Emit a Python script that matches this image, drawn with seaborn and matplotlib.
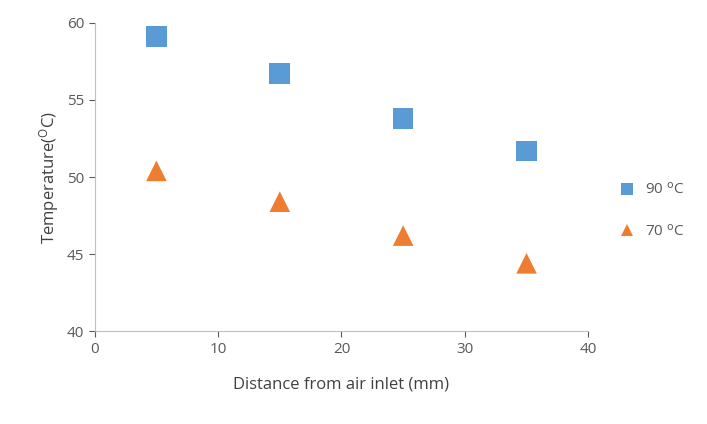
import matplotlib
matplotlib.use("Agg")
import matplotlib.pyplot as plt
import seaborn as sns
import pandas as pd

# data
distance = [5, 15, 25, 35]
temp_90 = [59.1, 56.7, 53.8, 51.7]
temp_70 = [50.4, 48.4, 46.2, 44.4]

lab90 = "90 $^{\\mathrm{o}}$C"
lab70 = "70 $^{\\mathrm{o}}$C"

df = pd.concat([
    pd.DataFrame({"x": distance, "y": temp_90, "s": lab90}),
    pd.DataFrame({"x": distance, "y": temp_70, "s": lab70}),
])

sns.set_style("white")
plt.rcParams["font.family"] = ["Open Sans", "DejaVu Sans"]
plt.rcParams["mathtext.default"] = "regular"

fig = plt.figure(figsize=(7.07, 4.24), dpi=100)
ax = fig.add_axes([0.134, 0.219, 0.698, 0.727])

sns.scatterplot(data=df, x="x", y="y", hue="s", style="s",
                markers={lab90: "s", lab70: "^"},
                palette={lab90: "#5b9bd5", lab70: "#ed7d31"},
                s=220, edgecolor="none", ax=ax)

ax.set_xlim(0, 40)
ax.set_ylim(40, 60)
ax.set_xticks([0, 10, 20, 30, 40])
ax.set_yticks([40, 45, 50, 55, 60])
ax.set_xlabel("Distance from air inlet (mm)", fontsize=12, color="#404040", labelpad=14)
ax.set_ylabel("Temperature($^{O}$C)", fontsize=12, color="#404040")
ax.tick_params(axis="both", labelsize=11, colors="#595959", length=4, direction="out")
ax.tick_params(axis="x", bottom=True)
ax.tick_params(axis="y", left=True)
for side in ["top", "right"]:
    ax.spines[side].set_visible(False)
for side in ["left", "bottom"]:
    ax.spines[side].set_color("#bfbfbf")

leg = ax.legend(loc="center left", bbox_to_anchor=(1.02, 0.39), frameon=False,
                fontsize=11, markerscale=0.6, handletextpad=0.2, labelspacing=1.7)
for t in leg.get_texts():
    t.set_color("#595959")

fig.savefig("out.png", dpi=100)
